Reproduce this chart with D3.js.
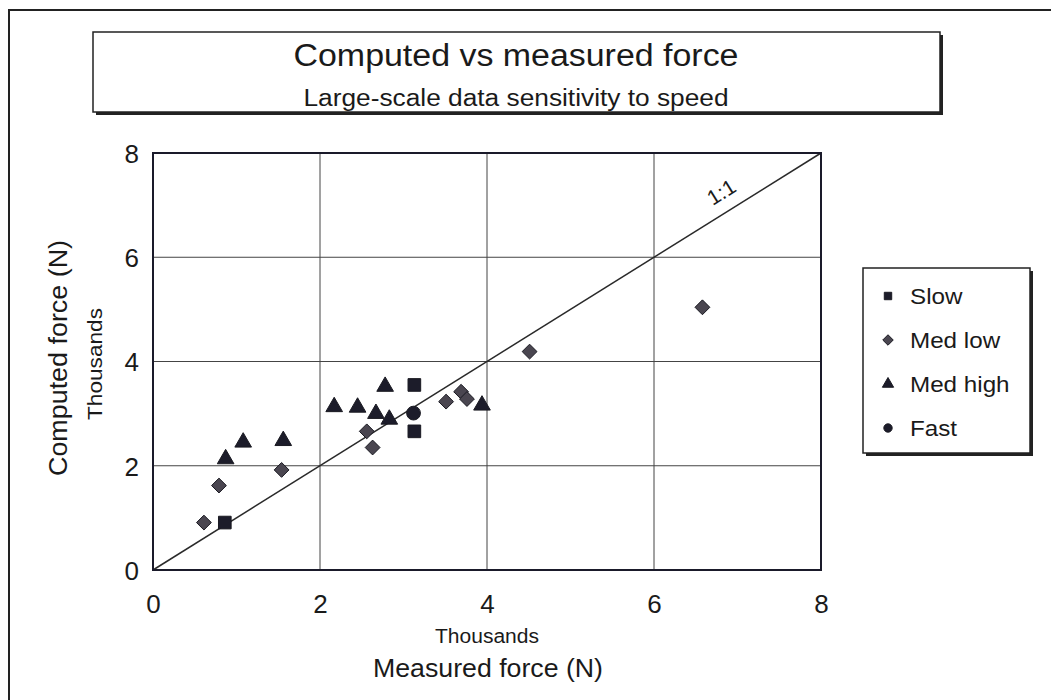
<!doctype html>
<html>
	<head>
	<style>
		body {
			margin: 0;
			background: #fff;
		}
		text {
			font-family: "Liberation Sans", Arial, sans-serif;
			fill: #1a1a1a;
		}
	</style>
	<script src="https://d3js.org/d3.v7.min.js"></script>
	</head>

	<body>
	<script>

	// values in thousands of N
	var slowX = [0.86, 3.13, 3.13];
	var slowY = [0.91, 3.55, 2.66];

	var medLowX = [0.61, 0.79, 1.54, 2.56, 2.63, 3.51, 3.69, 3.76, 4.51, 6.58];
	var medLowY = [0.91, 1.62, 1.92, 2.66, 2.35, 3.23, 3.42, 3.28, 4.19, 5.04];

	var medHighX = [0.87, 1.08, 1.56, 2.17, 2.45, 2.78, 2.67, 2.83, 3.94];
	var medHighY = [2.13, 2.45, 2.48, 3.13, 3.12, 3.52, 3.00, 2.89, 3.16];

	var fastX = [3.12];
	var fastY = [3.01];

	var seriesNames = ["Slow", "Med low", "Med high", "Fast"];
	var ticks = [0, 2, 4, 6, 8];

	// square turned 45 degrees, same width and height
	var diamond = {
		draw: function(ctx, size) {
			var r = Math.sqrt(size / 2);
			ctx.moveTo(0, -r);
			ctx.lineTo(r, 0);
			ctx.lineTo(0, r);
			ctx.lineTo(-r, 0);
			ctx.closePath();
		}
	};

	var series = [
		{name: seriesNames[0], x: slowX, y: slowY, shape: d3.symbolSquare, fill: "#1c1c2a", size: 160},
		{name: seriesNames[1], x: medLowX, y: medLowY, shape: diamond, fill: "#4a4650", size: 110},
		{name: seriesNames[2], x: medHighX, y: medHighY, shape: d3.symbolTriangle, fill: "#1c1c2a", size: 120},
		{name: seriesNames[3], x: fastX, y: fastY, shape: d3.symbolCircle, fill: "#1c1c2a", size: 150}
	];

	var W = 1051, H = 700;
	var plot = {left: 153, top: 153, right: 821, bottom: 570};

	var svg = d3.select("body").append("svg")
		.attr("width", W)
		.attr("height", H);

	// stretch text to the width seen in the picture
	function fit(sel, w) {
		sel.attr("textLength", w).attr("lengthAdjust", "spacingAndGlyphs");
	}

	// outer frame
	svg.append("rect")
		.attr("x", 9).attr("y", 10)
		.attr("width", 1060).attr("height", 700)
		.attr("fill", "none")
		.attr("stroke", "#222")
		.attr("stroke-width", 2);

	// title box with shadow
	svg.append("rect")
		.attr("x", 96).attr("y", 35)
		.attr("width", 847).attr("height", 80)
		.attr("fill", "#222");
	svg.append("rect")
		.attr("x", 93).attr("y", 32)
		.attr("width", 847).attr("height", 80)
		.attr("fill", "#fff")
		.attr("stroke", "#222")
		.attr("stroke-width", 1.5);

	svg.append("text")
		.attr("x", 516).attr("y", 66)
		.attr("text-anchor", "middle")
		.style("font-size", "31px")
		.text("Computed vs measured force")
		.call(fit, 445);

	svg.append("text")
		.attr("x", 516).attr("y", 106)
		.attr("text-anchor", "middle")
		.style("font-size", "23px")
		.text("Large-scale data sensitivity to speed")
		.call(fit, 425);

	var x = d3.scaleLinear().domain([0, 8]).range([plot.left, plot.right]);
	var y = d3.scaleLinear().domain([0, 8]).range([plot.bottom, plot.top]);

	var g = svg.append("g");

	// grid
	g.selectAll("line.vg")
		.data(ticks.slice(1, 4))
		.enter().append("line")
		.attr("class", "vg")
		.attr("x1", function(d) { return x(d); })
		.attr("x2", function(d) { return x(d); })
		.attr("y1", plot.top).attr("y2", plot.bottom)
		.attr("stroke", "#444").attr("stroke-width", 1);

	g.selectAll("line.hg")
		.data(ticks.slice(1, 4))
		.enter().append("line")
		.attr("class", "hg")
		.attr("y1", function(d) { return y(d); })
		.attr("y2", function(d) { return y(d); })
		.attr("x1", plot.left).attr("x2", plot.right)
		.attr("stroke", "#444").attr("stroke-width", 1);

	// 1:1 line
	g.append("line")
		.attr("x1", x(0)).attr("y1", y(0))
		.attr("x2", x(8)).attr("y2", y(8))
		.attr("stroke", "#2a2a2a").attr("stroke-width", 1.5);

	var ang = Math.atan2(y(8) - y(0), x(8) - x(0)) * 180 / Math.PI;
	g.append("text")
		.attr("transform", "translate(" + (x(6.9) - 4) + "," + (y(6.9) - 12) + ") rotate(" + ang + ")")
		.attr("text-anchor", "middle")
		.style("font-size", "21px")
		.text("1:1");

	// plot border
	g.append("rect")
		.attr("x", plot.left).attr("y", plot.top)
		.attr("width", plot.right - plot.left)
		.attr("height", plot.bottom - plot.top)
		.attr("fill", "none")
		.attr("stroke", "#1a1a2a")
		.attr("stroke-width", 2);

	// axes (labels only, ticks hidden)
	var xAxis = d3.axisBottom(x).tickValues(ticks).tickSize(0).tickPadding(0);
	var yAxis = d3.axisLeft(y).tickValues(ticks).tickSize(0).tickPadding(0);

	var gx = svg.append("g")
		.attr("transform", "translate(0," + (plot.bottom + 25) + ")")
		.call(xAxis);
	var gy = svg.append("g")
		.attr("transform", "translate(" + (plot.left - 14) + ",0)")
		.call(yAxis);
	[gx, gy].forEach(function(a) {
		a.select(".domain").remove();
		a.selectAll("text")
			.attr("fill", "#1a1a1a")
			.style("font-family", "'Liberation Sans', Arial, sans-serif")
			.style("font-size", "26px");
	});
	gx.selectAll("text").attr("dy", "0.71em");
	gy.selectAll("text").attr("dy", "0.36em");

	// axis titles
	svg.append("text")
		.attr("x", 487).attr("y", 643)
		.attr("text-anchor", "middle")
		.style("font-size", "20px")
		.text("Thousands")
		.call(fit, 104);

	svg.append("text")
		.attr("x", 488).attr("y", 677)
		.attr("text-anchor", "middle")
		.style("font-size", "25px")
		.text("Measured force  (N)")
		.call(fit, 230);

	svg.append("text")
		.attr("transform", "translate(67,358) rotate(-90)")
		.attr("text-anchor", "middle")
		.style("font-size", "25px")
		.text("Computed force  (N)")
		.call(fit, 236);

	svg.append("text")
		.attr("transform", "translate(102,364) rotate(-90)")
		.attr("text-anchor", "middle")
		.style("font-size", "20px")
		.text("Thousands")
		.call(fit, 112);

	// points
	series.forEach(function(s) {
		var pts = s.x.map(function(v, i) { return [v, s.y[i]]; });
		g.selectAll(null)
			.data(pts)
			.enter().append("path")
			.attr("d", d3.symbol().type(s.shape).size(s.size))
			.attr("transform", function(d) { return "translate(" + x(d[0]) + "," + y(d[1]) + ")"; })
			.attr("fill", s.fill)
			.attr("stroke", "#1a1a22")
			.attr("stroke-width", 1);
	});

	// legend
	var lg = svg.append("g").attr("transform", "translate(863,268)");
	lg.append("rect")
		.attr("x", 3).attr("y", 3)
		.attr("width", 167).attr("height", 185)
		.attr("fill", "#222");
	lg.append("rect")
		.attr("width", 167).attr("height", 185)
		.attr("fill", "#fff")
		.attr("stroke", "#222")
		.attr("stroke-width", 1.5);

	var item = lg.selectAll("g.item")
		.data(series)
		.enter().append("g")
		.attr("class", "item")
		.attr("transform", function(d, i) { return "translate(25," + (28 + i * 44) + ")"; });

	item.append("path")
		.attr("d", function(d) { return d3.symbol().type(d.shape).size(55)(); })
		.attr("fill", function(d) { return d.fill; })
		.attr("stroke", "#1a1a22");

	item.append("text")
		.attr("x", 22).attr("dy", "0.36em")
		.style("font-size", "22px")
		.text(function(d) { return d.name; })
		.each(function(d) {
			var t = d3.select(this);
			t.call(fit, this.getComputedTextLength() * 1.1);
		});

	</script>
	</body>
</html>
